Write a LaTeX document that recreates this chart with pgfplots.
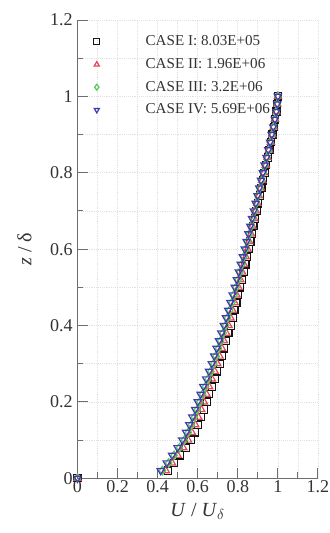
\documentclass[border=0pt]{standalone}
\usepackage{pgfplots}
\pgfplotsset{compat=1.18}
\usepackage{pgfplotstable}
\usepackage{fontspec}
\setmainfont{Liberation Serif}
\definecolor{cI}{RGB}{20,20,20}
\definecolor{cII}{RGB}{225,70,90}
\definecolor{cIII}{RGB}{90,200,90}
\definecolor{cIV}{RGB}{60,60,175}
\definecolor{axgray}{RGB}{110,110,110}
\definecolor{gridgray}{RGB}{225,225,225}

\pgfplotstableread{
z    c1    c2    c3    c4
0.00 0.000 0.000 0.000 0.000
0.02 0.452 0.441 0.424 0.415
0.04 0.483 0.472 0.455 0.445
0.06 0.512 0.500 0.482 0.472
0.08 0.540 0.528 0.509 0.499
0.10 0.565 0.552 0.534 0.523
0.12 0.584 0.571 0.553 0.542
0.14 0.601 0.588 0.569 0.558
0.16 0.616 0.603 0.584 0.573
0.18 0.631 0.618 0.598 0.587
0.20 0.644 0.631 0.611 0.600
0.22 0.657 0.644 0.625 0.614
0.24 0.670 0.657 0.639 0.628
0.26 0.684 0.671 0.652 0.642
0.28 0.697 0.685 0.666 0.656
0.30 0.710 0.698 0.680 0.670
0.32 0.721 0.709 0.692 0.682
0.34 0.732 0.721 0.704 0.694
0.36 0.742 0.731 0.715 0.706
0.38 0.753 0.743 0.727 0.718
0.40 0.764 0.754 0.739 0.730
0.42 0.774 0.764 0.749 0.741
0.44 0.783 0.774 0.760 0.752
0.46 0.793 0.784 0.771 0.763
0.48 0.802 0.794 0.781 0.774
0.50 0.812 0.804 0.792 0.785
0.52 0.821 0.813 0.802 0.795
0.54 0.829 0.822 0.811 0.805
0.56 0.838 0.831 0.821 0.815
0.58 0.846 0.840 0.830 0.825
0.60 0.855 0.849 0.840 0.835
0.62 0.863 0.857 0.849 0.844
0.64 0.871 0.866 0.858 0.853
0.66 0.878 0.873 0.866 0.862
0.68 0.886 0.882 0.875 0.871
0.70 0.894 0.890 0.884 0.880
0.72 0.902 0.898 0.892 0.889
0.74 0.910 0.906 0.901 0.898
0.76 0.918 0.915 0.910 0.907
0.78 0.926 0.923 0.919 0.916
0.80 0.934 0.931 0.927 0.925
0.82 0.942 0.940 0.936 0.934
0.84 0.950 0.948 0.945 0.943
0.86 0.958 0.956 0.954 0.952
0.88 0.966 0.965 0.962 0.961
0.90 0.973 0.972 0.970 0.969
0.92 0.980 0.979 0.978 0.977
0.94 0.987 0.986 0.986 0.985
0.96 0.993 0.993 0.992 0.992
0.98 0.997 0.997 0.997 0.997
1.00 1.000 1.000 1.000 1.000
}\prof

\begin{document}
\begin{tikzpicture}
\begin{axis}[
  name=ax,
  scale only axis,
  width=180pt, height=343pt,
  xmin=0, xmax=1.2, ymin=0, ymax=1.2,
  axis x line=bottom, axis y line=left,
  axis line style={axgray, line width=0.8pt, -},
  xtick={0,0.2,...,1.21}, ytick={0,0.2,...,1.21},
  minor x tick num=1, minor y tick num=1,
  tick align=inside,
  major tick length=8pt, minor tick length=4.5pt,
  tick style={axgray, line width=0.8pt},
  grid=both,
  major grid style={gridgray, densely dotted, line width=0.5pt},
  minor grid style={gridgray, densely dotted, line width=0.5pt},
  ticklabel style={font=\fontsize{13.5}{16}\selectfont, text=black!80},
  xticklabel style={yshift=2pt},
  xticklabels={0,0.2,0.4,0.6,0.8,1,1.2},
  yticklabels={0,0.2,0.4,0.6,0.8,1,1.2},
  xlabel={\textit{U} / \textit{U}$_{\delta}$},
  ylabel={\textit{z} / δ},
  label style={font=\fontsize{15}{18}\selectfont, text=black!80},
  xlabel style={yshift=-1pt},
  ylabel style={yshift=7pt},
  clip=false,
  legend cell align=left,
  legend style={draw=none, fill=none, at={(0.0,0.978)}, anchor=north west,
    font=\fontsize{11.3}{13}\selectfont, text=black!80, row sep=4pt},
  every axis plot/.append style={only marks, line width=0.9pt, mark size=2.7pt},
  every axis plot post/.append style={
    legend image code/.code={\path (0cm,0cm) (1.58cm,0cm); \draw[mark repeat=2,mark phase=2,#1,mark size=2.2pt] plot coordinates {(0cm,0cm)(0.38cm,0cm)(0.7cm,0cm)};}},
]
\addplot[cI, mark=square] table[x=c1,y=z]{\prof};
\addlegendentry{CASE I: 8.03E+05}
\addplot[cII, mark=triangle, mark size=3.1pt] table[x=c2,y=z]{\prof};
\addlegendentry{CASE II: 1.96E+06}
\addplot[cIII, mark=diamond, mark size=3.2pt] table[x=c3,y=z]{\prof};
\addlegendentry{CASE III: 3.2E+06}
\addplot[cIV, mark=triangle, mark options={rotate=180}, mark size=3.1pt] table[x=c4,y=z]{\prof};
\addlegendentry{CASE IV: 5.69E+06}
\end{axis}
\pgfresetboundingbox
\path (ax.south west) ++(-58pt,-41pt) coordinate (bl);
\path (ax.north east) ++(8.5pt,15pt) coordinate (tr);
\path (bl) rectangle (tr);
\end{tikzpicture}
\end{document}
